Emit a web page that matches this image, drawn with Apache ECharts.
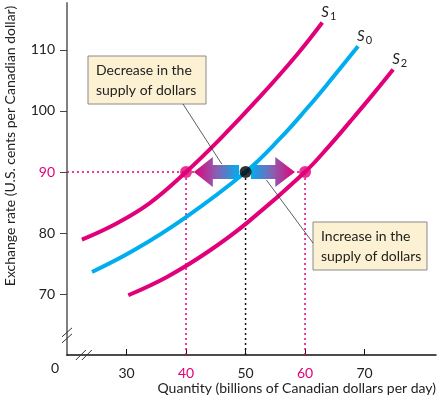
<!DOCTYPE html>
<html lang="en">
<head>
  <meta charset="UTF-8">
  <title>Supply of Canadian dollars</title>
  <script src="https://cdn.jsdelivr.net/npm/echarts@6/dist/echarts.min.js"></script>
  <style>
    body { margin: 0; padding: 0; background: #fff; }
    #chart { width: 437px; height: 399px; }
  </style>
</head>
<body>
  <div id="chart"></div>
  <script>
    // axis ranges and ticks
    var xMin = 20, xMax = 82;
    var yMin = 60, yMax = 117.7;
    var xTicks = [30, 40, 50, 60, 70];
    var yTicks = [70, 80, 90, 100, 110];
    var pinkX = [40, 60];
    var pinkY = [90];

    // supply curves (quantity, exchange rate)
    var s1Data = [[22.5, 78.9], [28.4, 81.6], [33.9, 84.9], [40, 90], [45.7, 95.4],
                  [52.4, 102.3], [58.7, 109.3], [62.9, 114.5]];
    var s0Data = [[24.2, 73.6], [31.3, 77.2], [39.7, 82.4], [50, 90], [55.8, 95.5],
                  [60.3, 100.4], [64.0, 104.7], [68.9, 110.6]];
    var s2Data = [[30.3, 69.8], [36.8, 72.8], [43.5, 76.8], [50.3, 81.7], [60, 90],
                  [64.0, 94.2], [67.6, 98.3], [71.3, 102.6], [74.8, 106.8]];

    // equilibrium points
    var rate = 90;
    var qLow = 40, qMid = 50, qHigh = 60;

    var PINK = '#e2007a';
    var CYAN = '#00aeef';
    var FONT = 'Lato';

    var chart = echarts.init(document.getElementById('chart'));

    function curve(name, data, color, sub) {
      return {
        name: name, type: 'line', data: data, smooth: 0.4,
        symbol: 'none', z: 4,
        lineStyle: { color: color, width: 4 },
        endLabel: {
          show: true, formatter: '{s|S}{b|' + sub + '}', offset: [-9, -10],
          rich: {
            s: { fontFamily: FONT, fontStyle: 'italic', fontSize: 15, color: '#222' },
            b: { fontFamily: FONT, fontSize: 11, color: '#222', padding: [8, 0, 0, 1] }
          }
        }
      };
    }

    function dotted(data, color) {
      return {
        type: 'line', data: data, symbol: 'none', z: 2, silent: true,
        lineStyle: { color: color, width: 1.5, type: [2, 3] }
      };
    }

    chart.setOption({
      animation: false,
      grid: { left: 67, right: 1, top: 3, bottom: 44 },
      xAxis: {
        type: 'value', min: xMin, max: xMax, interval: 10,
        axisLine: { lineStyle: { color: '#111', width: 1.5 } },
        axisTick: { show: true, inside: true, length: 6, customValues: xTicks, lineStyle: { color: '#111' } },
        axisLabel: {
          customValues: xTicks, margin: 11, fontFamily: FONT, fontSize: 14,
          color: function (v) { return pinkX.indexOf(Number(v)) >= 0 ? PINK : '#222'; }
        },
        splitLine: { show: false }
      },
      yAxis: {
        type: 'value', min: yMin, max: yMax, interval: 10,
        axisLine: { show: true, lineStyle: { color: '#808080', width: 2 } },
        axisTick: { show: true, length: 7, customValues: yTicks, lineStyle: { color: '#444' } },
        axisLabel: {
          customValues: yTicks, margin: 12, fontFamily: FONT, fontSize: 14,
          color: function (v) { return pinkY.indexOf(Number(v)) >= 0 ? PINK : '#222'; }
        },
        splitLine: { show: false }
      },
      series: [
        dotted([[xMin, rate], [qHigh, rate]], PINK),
        dotted([[qLow, yMin], [qLow, rate]], PINK),
        dotted([[qHigh, yMin], [qHigh, rate]], PINK),
        dotted([[qMid, yMin], [qMid, rate]], '#111'),
        curve('S1', s1Data, PINK, '1'),
        curve('S0', s0Data, CYAN, '0'),
        curve('S2', s2Data, PINK, '2'),
        {
          type: 'scatter', data: [[qLow, rate], [qHigh, rate]], symbolSize: 12, z: 6,
          itemStyle: { color: PINK }
        },
        {
          type: 'scatter', data: [[qMid, rate]], symbolSize: 12, z: 6,
          itemStyle: { color: '#000' }
        }
      ]
    });

    // annotations placed from data coordinates
    function px(x, y) { return chart.convertToPixel({ gridIndex: 0 }, [x, y]); }

    function arrow(tipX, baseX, endX, color1, color2) {
      var tip = px(tipX, rate), base = px(baseX, rate), end = px(endX, rate);
      var cy = tip[1];
      var pts = [
        [tip[0], cy], [base[0], cy - 15], [base[0], cy - 7], [end[0], cy - 7],
        [end[0], cy + 7], [base[0], cy + 7], [base[0], cy + 15]
      ];
      var fromTip = tip[0] < end[0];
      return {
        type: 'polygon', z: 3,
        shape: { points: pts },
        style: {
          fill: new echarts.graphic.LinearGradient(0, 0, 1, 0, [
            { offset: 0, color: fromTip ? color1 : color2 },
            { offset: 0.5, color: '#8a5fb0' },
            { offset: 1, color: fromTip ? color2 : color1 }
          ])
        }
      };
    }

    function noteBox(x, y, w, h, lines) {
      return {
        type: 'group', x: x, y: y, z: 10,
        children: [
          { type: 'rect', shape: { x: 0, y: 0, width: w, height: h },
            style: { fill: '#fdf1d3', stroke: '#8a8a8a', lineWidth: 1 } },
          { type: 'text', x: 8, y: h / 2,
            style: { text: lines.join('\n'), fill: '#222', font: '14px ' + FONT,
                     lineHeight: 20, verticalAlign: 'middle' } }
        ]
      };
    }

    var leftTip = px(42.3, rate), rightTip = px(53, rate);
    var yBreak = px(xMin, 63.3), xBreak = px(23, yMin);

    chart.setOption({
      graphic: [
        arrow(41.3, 44.5, 48.9, PINK, CYAN),
        arrow(58.3, 55.0, 50.9, PINK, CYAN),
        { type: 'line', z: 5, shape: { x1: 183, y1: 104, x2: leftTip[0] + 22, y2: leftTip[1] - 8 },
          style: { stroke: '#333', lineWidth: 0.8 } },
        { type: 'line', z: 5, shape: { x1: rightTip[0] + 3, y1: rightTip[1] + 8, x2: 313, y2: 243 },
          style: { stroke: '#333', lineWidth: 0.8 } },
        noteBox(88, 56, 118, 48, ['Decrease in the', 'supply of dollars']),
        noteBox(313, 222, 114, 48, ['Increase in the', 'supply of dollars']),
        // axis breaks
        { type: 'line', z: 5, shape: { x1: yBreak[0] - 5, y1: yBreak[1] + 2, x2: yBreak[0] + 5, y2: yBreak[1] - 7 },
          style: { stroke: '#333', lineWidth: 1 } },
        { type: 'line', z: 5, shape: { x1: yBreak[0] - 5, y1: yBreak[1] + 8, x2: yBreak[0] + 5, y2: yBreak[1] - 1 },
          style: { stroke: '#333', lineWidth: 1 } },
        { type: 'line', z: 5, shape: { x1: xBreak[0] - 9, y1: xBreak[1] + 5, x2: xBreak[0] + 1, y2: xBreak[1] - 5 },
          style: { stroke: '#333', lineWidth: 1 } },
        { type: 'line', z: 5, shape: { x1: xBreak[0] - 3, y1: xBreak[1] + 5, x2: xBreak[0] + 7, y2: xBreak[1] - 5 },
          style: { stroke: '#333', lineWidth: 1 } },
        // origin and axis titles
        { type: 'text', x: 55, y: 368, z: 5,
          style: { text: '0', fill: '#222', font: '14px ' + FONT, align: 'center', verticalAlign: 'middle' } },
        { type: 'text', x: 436, y: 388, z: 5,
          style: { text: 'Quantity (billions of Canadian dollars per day)', fill: '#222', font: '14px ' + FONT,
                   align: 'right', verticalAlign: 'middle' } },
        { type: 'text', x: 10, y: 146, rotation: Math.PI / 2, z: 5,
          style: { text: 'Exchange rate (U.S. cents per Canadian dollar)', fill: '#222', font: '14px ' + FONT,
                   align: 'center', verticalAlign: 'middle' } }
      ]
    });
  </script>
</body>
</html>
